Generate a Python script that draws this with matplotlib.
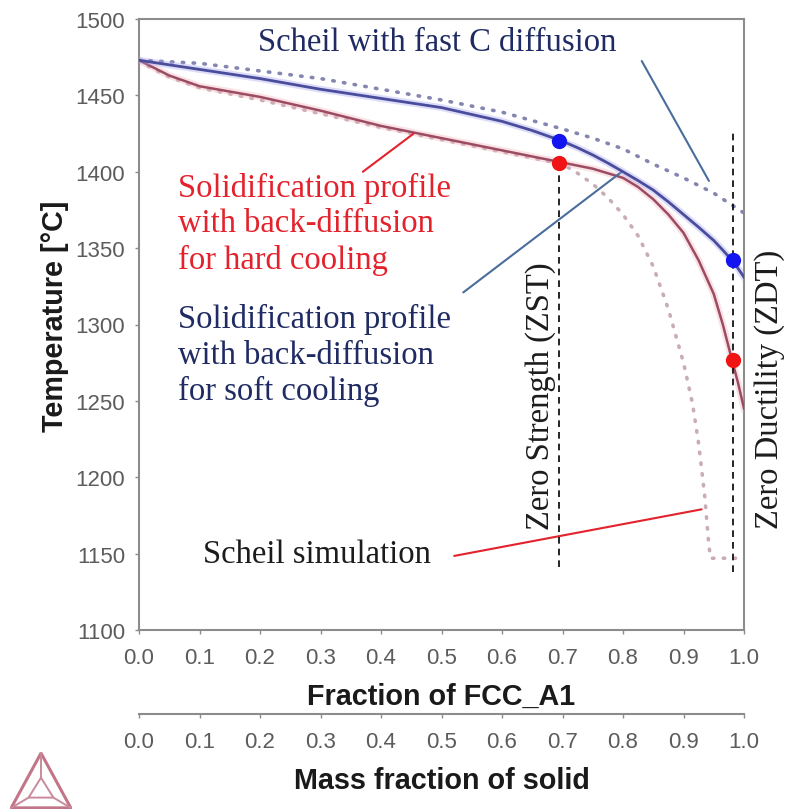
import matplotlib
matplotlib.use('Agg')
import matplotlib.pyplot as plt
from matplotlib.patches import Polygon

# ---------------- data ----------------
frac_soft = [0.0, 0.05, 0.1, 0.2, 0.3, 0.4, 0.5, 0.6, 0.65, 0.7, 0.725, 0.75, 0.775, 0.8,
             0.825, 0.85, 0.875, 0.9, 0.925, 0.95, 0.965, 0.98, 0.99, 1.0]
temp_soft = [1473, 1470, 1467, 1461, 1454, 1448, 1442, 1433, 1427, 1420, 1415.7, 1411,
             1405.7, 1400, 1394.2, 1388, 1380.3, 1372, 1363.7, 1355, 1348.7, 1342, 1336.8, 1331]

frac_hard = [0.0, 0.02, 0.05, 0.1, 0.2, 0.3, 0.4, 0.5, 0.6, 0.7, 0.75, 0.8, 0.825, 0.85,
             0.875, 0.9, 0.925, 0.95, 0.965, 0.98, 0.99, 1.0]
temp_hard = [1473, 1469, 1463, 1456, 1449, 1440, 1430, 1422, 1414, 1406, 1402, 1396, 1390,
             1382, 1372, 1360, 1342, 1320, 1300, 1277, 1262, 1245]

frac_fastc = [0.0, 0.1, 0.2, 0.3, 0.4, 0.5, 0.6, 0.7, 0.75, 0.8, 0.85, 0.9, 0.95, 1.0]
temp_fastc = [1473, 1471, 1466, 1461, 1454, 1447, 1439, 1428, 1422, 1415, 1405, 1396, 1386, 1373]

frac_scheil = [0.0, 0.02, 0.05, 0.1, 0.2, 0.3, 0.4, 0.5, 0.6, 0.7, 0.725, 0.75, 0.775, 0.8,
               0.825, 0.85, 0.875, 0.9, 0.915, 0.925, 0.935, 0.942, 0.945, 0.97, 1.0]
temp_scheil = [1473, 1468, 1462, 1455, 1447, 1438, 1429, 1421, 1413, 1405, 1399, 1392, 1383,
               1372, 1358, 1338, 1310, 1275, 1248, 1222, 1188, 1155, 1147, 1147, 1147]

zst_frac = 0.695
zdt_frac = 0.981
zst_points = [1420, 1406]      # soft, hard at ZST
zdt_points = [1342, 1277]      # soft, hard at ZDT
zst_line = [1141, 1406]
zdt_line = [1138, 1428]

xticks = [0.0, 0.1, 0.2, 0.3, 0.4, 0.5, 0.6, 0.7, 0.8, 0.9, 1.0]
yticks = [1100, 1150, 1200, 1250, 1300, 1350, 1400, 1450, 1500]

# ---------------- style ----------------
NAVY = '#1f2b62'
RED = '#e3222c'
LEAD_BLUE = '#4a6d9c'
SERIF = ['Liberation Serif', 'DejaVu Serif']
SANS = ['Liberation Sans', 'DejaVu Sans']
TICK_COL = '#5c5c5c'
SPINE_COL = '#8c8c8c'

W, H = 786, 812
fig = plt.figure(figsize=(W / 100, H / 100), dpi=100)
L, R, T, B = 139, 744, 20, 631
ax = fig.add_axes([L / W, 1 - B / H, (R - L) / W, (B - T) / H])
ax.set_xlim(0, 1)
ax.set_ylim(1100, 1500)

# curves
ax.plot(frac_fastc, temp_fastc, color='#8486b0', lw=2.6, ls=(0, (0.4, 2.6)),
        dash_capstyle='round', zorder=2)
ax.plot(frac_scheil, temp_scheil, color='#c9acb6', lw=2.6, ls=(0, (0.4, 2.6)),
        dash_capstyle='round', zorder=2)
ax.plot(frac_hard, temp_hard, color='#f3b0b8', lw=5, alpha=0.35, zorder=3)
ax.plot(frac_hard, temp_hard, color='#9c4c62', lw=1.8, zorder=3)
ax.plot(frac_soft, temp_soft, color='#a0a0ee', lw=5, alpha=0.35, zorder=4)
ax.plot(frac_soft, temp_soft, color='#4a4c9c', lw=2.0, zorder=4)

# ZST / ZDT dashed lines
ax.plot([zst_frac, zst_frac], zst_line, color='black', lw=1.2, ls=(0, (4, 3)), zorder=5)
ax.plot([zdt_frac, zdt_frac], zdt_line, color='black', lw=1.2, ls=(0, (4, 3)), zorder=5)

# markers
ax.plot([zst_frac, zdt_frac], [zst_points[0], zdt_points[0]], 'o', color='#1414f0',
        ms=11, mec='none', zorder=6)
ax.plot([zst_frac, zdt_frac], [zst_points[1], zdt_points[1]], 'o', color='#f01414',
        ms=11, mec='none', zorder=6)

# leader lines
def lead(p0, p1, col):
    ax.annotate('', xy=p1, xytext=p0,
                arrowprops=dict(arrowstyle='-', color=col, lw=1.5, shrinkA=0, shrinkB=0))

lead((0.831, 1472.5), (0.942, 1394), LEAD_BLUE)
lead((0.370, 1400), (0.454, 1425), RED)
lead((0.536, 1321), (0.798, 1400), LEAD_BLUE)
lead((0.521, 1148.5), (0.930, 1179), RED)

# annotation texts
fs = 23.5
ax.text(0.197, 1485, 'Scheil with fast C diffusion', color=NAVY, fontsize=fs,
        family=SERIF, ha='left', va='center')
ax.text(0.065, 1400, 'Solidification profile\nwith back-diffusion\nfor hard cooling',
        color=RED, fontsize=fs, family=SERIF, ha='left', va='top', linespacing=1.22)
ax.text(0.065, 1314, 'Solidification profile\nwith back-diffusion\nfor soft cooling',
        color=NAVY, fontsize=fs, family=SERIF, ha='left', va='top', linespacing=1.22)
ax.text(0.106, 1150, 'Scheil simulation', color='#1c1c1c', fontsize=fs,
        family=SERIF, ha='left', va='center')
ax.text(0.664, 1254, 'Zero Strength (ZST)', color='#1c1c1c', fontsize=fs,
        family=SERIF, rotation=90, ha='center', va='center')
ax.text(1.043, 1258, 'Zero Ductility (ZDT)', color='#1c1c1c', fontsize=fs,
        family=SERIF, rotation=90, ha='center', va='center', clip_on=False)

# axes styling
for s in ax.spines.values():
    s.set_color(SPINE_COL)
    s.set_linewidth(1.5)
ax.set_xticks(xticks)
ax.set_yticks(yticks)
ax.set_xticklabels([f'{v:.1f}' for v in xticks])
ax.set_yticklabels([str(v) for v in yticks])
ax.tick_params(axis='both', direction='out', length=3, width=1, color=SPINE_COL,
               labelcolor=TICK_COL, labelsize=16)
ax.tick_params(axis='x', pad=9)
ax.tick_params(axis='y', pad=7)
for lab in ax.get_xticklabels() + ax.get_yticklabels():
    lab.set_family(SANS)

ax.set_ylabel('Temperature [°C]', fontsize=20.7, fontweight='bold', family=SANS,
              color='#1a1a1a')
ax.yaxis.set_label_coords((55 - L) / (R - L), 0.515)
ax.yaxis.label.set_va('center')
ax.set_xlabel('Fraction of FCC_A1', fontsize=20.7, fontweight='bold', family=SANS,
              color='#1a1a1a')
ax.xaxis.set_label_coords(0.5, -(697 - B) / (B - T))
ax.xaxis.label.set_va('center')

# secondary axis
sec = ax.secondary_xaxis(-(715 - B) / (B - T))
sec.set_xticks(xticks)
sec.set_xticklabels([f'{v:.1f}' for v in xticks])
sec.spines['bottom'].set_color(SPINE_COL)
sec.spines['bottom'].set_linewidth(1.5)
sec.tick_params(axis='x', direction='out', length=3, width=1, color=SPINE_COL,
                labelcolor=TICK_COL, labelsize=16, pad=9)
for lab in sec.get_xticklabels():
    lab.set_family(SANS)
ax.text(0.5, -(781 - B) / (B - T), 'Mass fraction of solid', transform=ax.transAxes,
        fontsize=20.7, fontweight='bold', family=SANS, color='#1a1a1a',
        ha='center', va='center')

# logo (Thermo-Calc style triangle)
lax = fig.add_axes([10 / W, 2 / H, 62 / W, 57 / H])
lax.set_xlim(0, 1)
lax.set_ylim(0, 1)
lax.axis('off')
lax.add_patch(Polygon([[0.02, 0.02], [0.98, 0.02], [0.5, 0.98]], closed=True,
                      fill=False, ec='#c27488', lw=2.2))
lax.add_patch(Polygon([[0.3, 0.2], [0.7, 0.2], [0.5, 0.55]], closed=True,
                      fill=False, ec='#c98b9c', lw=1.4))
lax.plot([0.5, 0.5], [0.98, 0.55], color='#c98b9c', lw=1.4)
lax.plot([0.02, 0.3], [0.02, 0.2], color='#c98b9c', lw=1.4)
lax.plot([0.98, 0.7], [0.02, 0.2], color='#c98b9c', lw=1.4)

fig.savefig('out.png', dpi=100, facecolor='white')
